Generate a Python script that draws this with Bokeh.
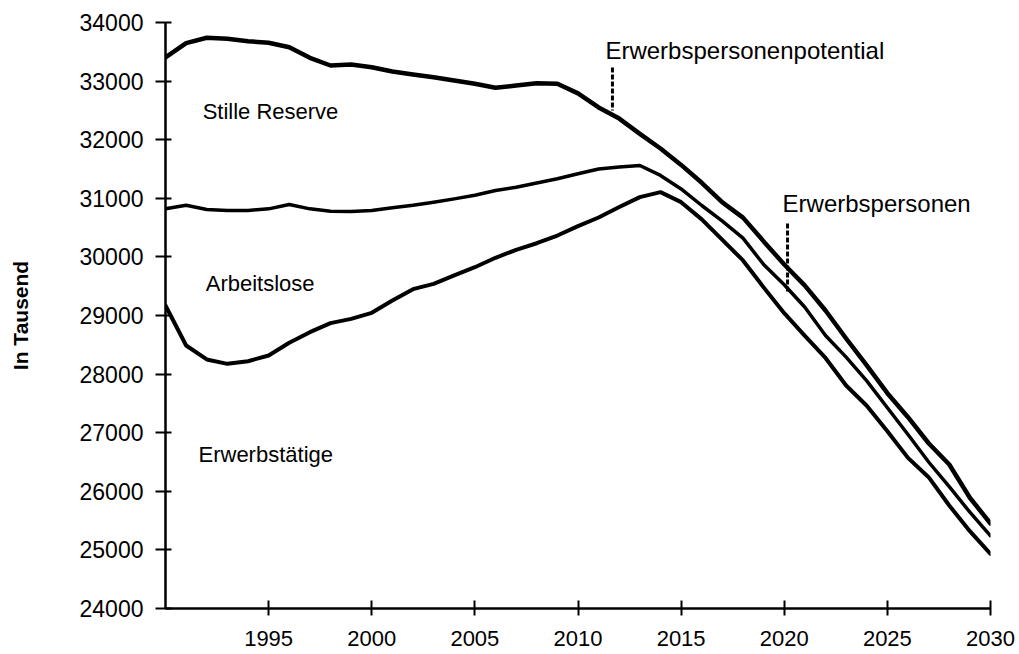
from bokeh.plotting import figure
from bokeh.models import FixedTicker, Range1d, Label
from bokeh.embed import file_html
from bokeh.resources import INLINE

years = list(range(1990, 2031))

potential = [33403, 33647, 33739, 33722, 33681, 33654, 33578, 33398, 33266, 33283,
             33237, 33164, 33113, 33067, 33010, 32954, 32886, 32925, 32964, 32954,
             32790, 32550, 32360, 32100, 31850, 31570, 31265, 30930, 30670, 30265,
             29870, 29510, 29085, 28607, 28147, 27674, 27265, 26820, 26457, 25890, 25450]

erwerbspersonen = [30820, 30882, 30809, 30792, 30792, 30820, 30894, 30820, 30780, 30775,
                   30792, 30837, 30880, 30934, 30990, 31053, 31133, 31190, 31260, 31333,
                   31420, 31500, 31535, 31560, 31390, 31160, 30877, 30610, 30320, 29870,
                   29524, 29140, 28660, 28290, 27885, 27425, 26970, 26500, 26080, 25643, 25240]

erwerbstaetige = [29170, 28488, 28250, 28175, 28220, 28318, 28534, 28715, 28870, 28943,
                  29046, 29256, 29450, 29540, 29683, 29824, 29985, 30120, 30233, 30365,
                  30524, 30672, 30850, 31020, 31105, 30934, 30640, 30290, 29940, 29480,
                  29040, 28653, 28275, 27806, 27460, 27026, 26570, 26241, 25758, 25320, 24930]

x_ticks = [1995, 2000, 2005, 2010, 2015, 2020, 2025, 2030]
y_ticks = [24000, 25000, 26000, 27000, 28000, 29000, 30000, 31000, 32000, 33000, 34000]

area_labels = ["Stille Reserve", "Arbeitslose", "Erwerbstätige"]
line_labels = ["Erwerbspersonenpotential", "Erwerbspersonen"]

FONT = "Liberation Sans"

p = figure(width=1015, height=652, output_backend="svg", toolbar_location=None,
           x_range=Range1d(1990, 2030), y_range=Range1d(24000, 34000),
           min_border_left=165, min_border_right=25, min_border_top=22, min_border_bottom=44)
p.outline_line_color = None
p.xgrid.visible = False
p.ygrid.visible = False
p.background_fill_color = "white"
p.border_fill_color = "white"

for series, lw in ((potential, 4.5), (erwerbspersonen, 3.5), (erwerbstaetige, 4.0)):
    p.line(years, series, line_color="black", line_width=lw, line_join="round", line_cap="round")

# axes
p.xaxis.ticker = FixedTicker(ticks=x_ticks)
p.yaxis.ticker = FixedTicker(ticks=y_ticks)
for ax in (p.xaxis[0], p.yaxis[0]):
    ax.axis_line_color = "black"
    ax.axis_line_width = 2.5
    ax.major_tick_line_color = "black"
    ax.major_tick_line_width = 2
    ax.minor_tick_line_color = None
    ax.major_label_text_font = FONT
    ax.major_label_text_color = "black"
p.xaxis.major_tick_in = 8
p.xaxis.major_tick_out = 7
p.xaxis.major_label_standoff = 15
p.xaxis.major_label_text_font_size = "22px"
p.yaxis.major_tick_in = 6
p.yaxis.major_tick_out = 10
p.yaxis.major_label_standoff = 12
p.yaxis.major_label_text_font_size = "23px"
p.yaxis.axis_label = "In Tausend"
p.yaxis.axis_label_text_font = FONT
p.yaxis.axis_label_text_font_style = "bold"
p.yaxis.axis_label_text_font_size = "21px"
p.yaxis.axis_label_text_color = "black"
p.yaxis.axis_label_standoff = 45

# area labels
area_pos = [(1991.8, 32480), (1991.95, 29545), (1991.6, 26625)]
for txt, (x, y) in zip(area_labels, area_pos):
    p.add_layout(Label(x=x, y=y, text=txt, text_font=FONT, text_font_size="22px",
                       text_color="black", text_baseline="alphabetic", text_align="left"))

line_pos = [(2011.33, 33530), (2019.92, 30915)]
for txt, (x, y) in zip(line_labels, line_pos):
    p.add_layout(Label(x=x, y=y, text=txt, text_font=FONT, text_font_size="24px",
                       text_color="black", text_baseline="alphabetic", text_align="left"))

# dashed leader lines
p.segment(x0=[2011.67, 2020.16], y0=[33232, 30570], x1=[2011.67, 2020.16], y1=[32498, 29375],
          line_color="black", line_width=3, line_dash="5 2")

open("out.html", "w").write(file_html(p, INLINE))
